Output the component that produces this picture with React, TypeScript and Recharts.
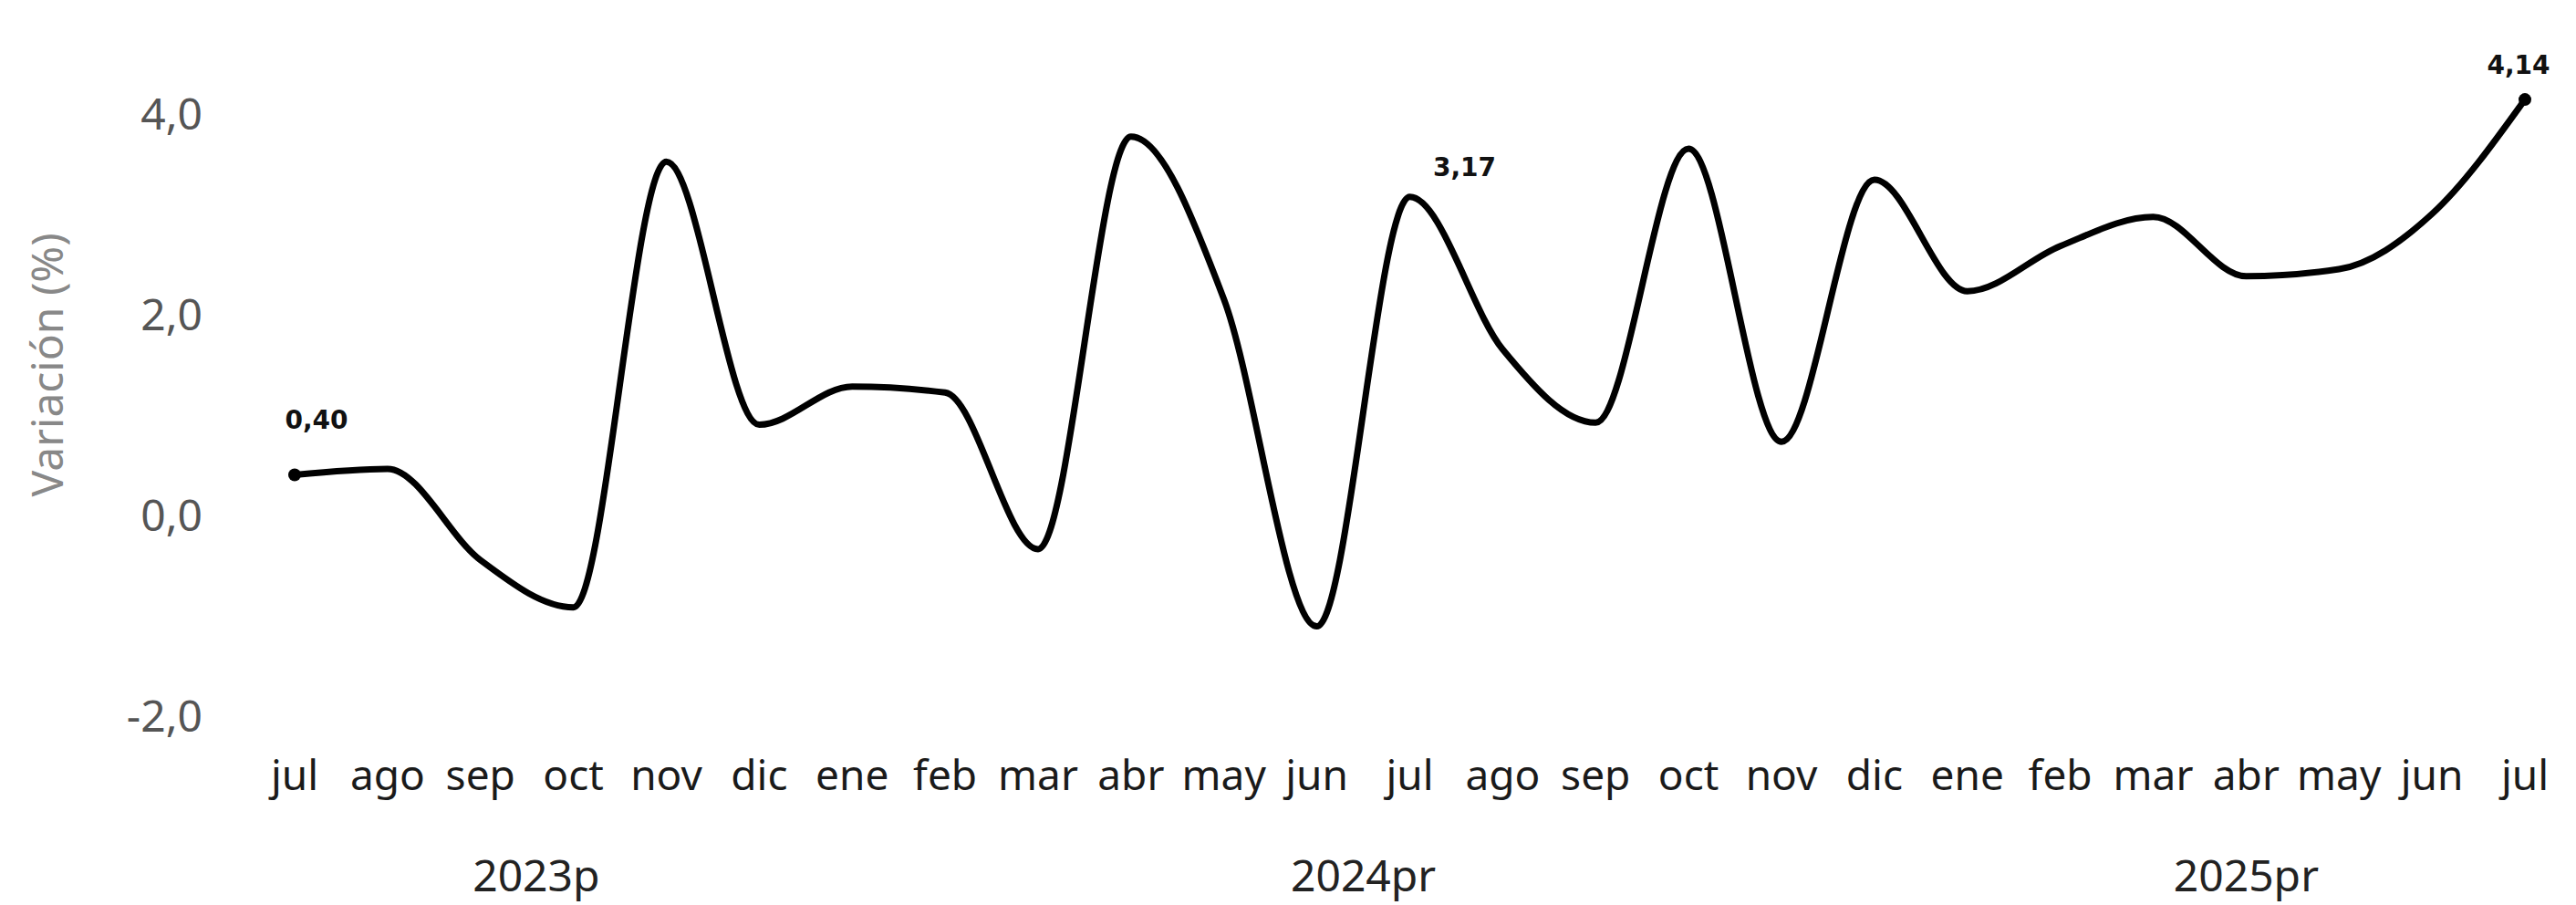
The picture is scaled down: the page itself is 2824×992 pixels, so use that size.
import React from 'react';
import { LineChart, Line, XAxis, YAxis, LabelList } from 'recharts';

const monthLabels = ['jul', 'ago', 'sep', 'oct', 'nov', 'dic', 'ene', 'feb', 'mar', 'abr', 'may', 'jun', 'jul', 'ago', 'sep', 'oct', 'nov', 'dic', 'ene', 'feb', 'mar', 'abr', 'may', 'jun', 'jul'];
const variation = [0.40, 0.46, -0.45, -0.92, 3.52, 0.90, 1.28, 1.22, -0.34, 3.77, 2.15, -1.11, 3.17, 1.65, 0.92, 3.65, 0.73, 3.34, 2.23, 2.68, 2.97, 2.38, 2.45, 3.00, 4.14];
const yearLabels = ['2023p', '2024pr', '2025pr'];
const yearTickIndex = [2.6, 11.5, 21.0];
const yTicks = [-2, 0, 2, 4];
const labelledIndex = [0, 12, 24];
const yTitle = 'Variación (%)';

const data = monthLabels.map((m, i) => ({ idx: i, mes: m, v: variation[i] }));
const monthTicks = monthLabels.map((_, i) => i);

const FONT = '"Noto Sans", "Open Sans", sans-serif';
const fmt = (v: number, d: number) => v.toFixed(d).replace('.', ',');

const labelOffset: Record<number, [number, number]> = { 0: [24, -60], 12: [60, -32], 24: [-7, -38] };

function PointLabel(props: any) {
  const { x, y, index, value } = props;
  if (!labelledIndex.includes(index)) return null;
  const [dx, dy] = labelOffset[index];
  return (
    <text x={x + dx} y={y + dy} textAnchor="middle" dominantBaseline="central" fontFamily='"DejaVu Sans", sans-serif' fontWeight="bold" fontSize={28} fill="#111">
      {fmt(Number(value), 2)}
    </text>
  );
}

function PointDot(props: any) {
  const { cx, cy, index } = props;
  if (index !== 0 && index !== variation.length - 1) return <g key={`d${index}`} />;
  return <circle key={`d${index}`} cx={cx} cy={cy} r={7} fill="#000" />;
}

function MonthTick(props: any) {
  const { x, y, payload } = props;
  return (
    <text x={x} y={y + 58} textAnchor="middle" dominantBaseline="central" fontSize={46} fontFamily={FONT} fill="#1a1a1a">
      {monthLabels[payload.value]}
    </text>
  );
}

function YearTick(props: any) {
  const { x, y, payload } = props;
  const k = yearTickIndex.indexOf(payload.value);
  return (
    <text x={x} y={y + 78} textAnchor="middle" dominantBaseline="central" fontSize={48} fontFamily={FONT} fill="#222">
      {k >= 0 ? yearLabels[k] : ''}
    </text>
  );
}

function YTitle(props: any) {
  const vb = props.viewBox || { x: 0, y: 42, width: 323, height: 748 };
  const cx = vb.x + 50;
  const cy = vb.y + vb.height / 2 - 16;
  return (
    <text transform={`translate(${cx}, ${cy}) rotate(-90)`} textAnchor="middle" dominantBaseline="central" fontSize={48} fontFamily={FONT} fill="#888">
      {yTitle}
    </text>
  );
}

export default function App() {
  return (
    <div style={{ position: 'absolute', left: 0, top: 0, width: 2824, height: 992, background: '#fff' }}>
      <LineChart width={2824} height={992} data={data} margin={{ top: 42, right: 56, bottom: 0, left: 0 }}>
        <XAxis
          dataKey="idx"
          type="number"
          domain={[0, 24]}
          ticks={monthTicks}
          interval={0}
          axisLine={false}
          tickLine={false}
          tickSize={0}
          tickMargin={0}
          height={90}
          tick={<MonthTick />}
        />
        <XAxis
          xAxisId="year"
          dataKey="idx"
          type="number"
          domain={[0, 24]}
          ticks={yearTickIndex}
          interval={0}
          allowDecimals
          axisLine={false}
          tickLine={false}
          tickSize={0}
          tickMargin={0}
          height={112}
          tick={<YearTick />}
        />
        <YAxis
          type="number"
          domain={[-2.05, 4.75]}
          ticks={yTicks}
          interval={0}
          width={323}
          axisLine={false}
          tickLine={false}
          tickSize={0}
          tickMargin={101}
          tickFormatter={(v: number) => fmt(v, 1)}
          tick={{ fontSize: 48, fill: '#555', fontFamily: FONT }}
          label={{ content: <YTitle /> }}
        />
        <Line
          xAxisId="year"
          type="monotone"
          dataKey="v"
          stroke="transparent"
          strokeWidth={0}
          dot={false}
          activeDot={false}
          isAnimationActive={false}
        />
        <Line
          type="monotone"
          dataKey="v"
          stroke="#000"
          strokeWidth={7}
          strokeLinecap="round"
          dot={<PointDot />}
          activeDot={false}
          isAnimationActive={false}
        >
          <LabelList dataKey="v" content={<PointLabel />} />
        </Line>
      </LineChart>
    </div>
  );
}
